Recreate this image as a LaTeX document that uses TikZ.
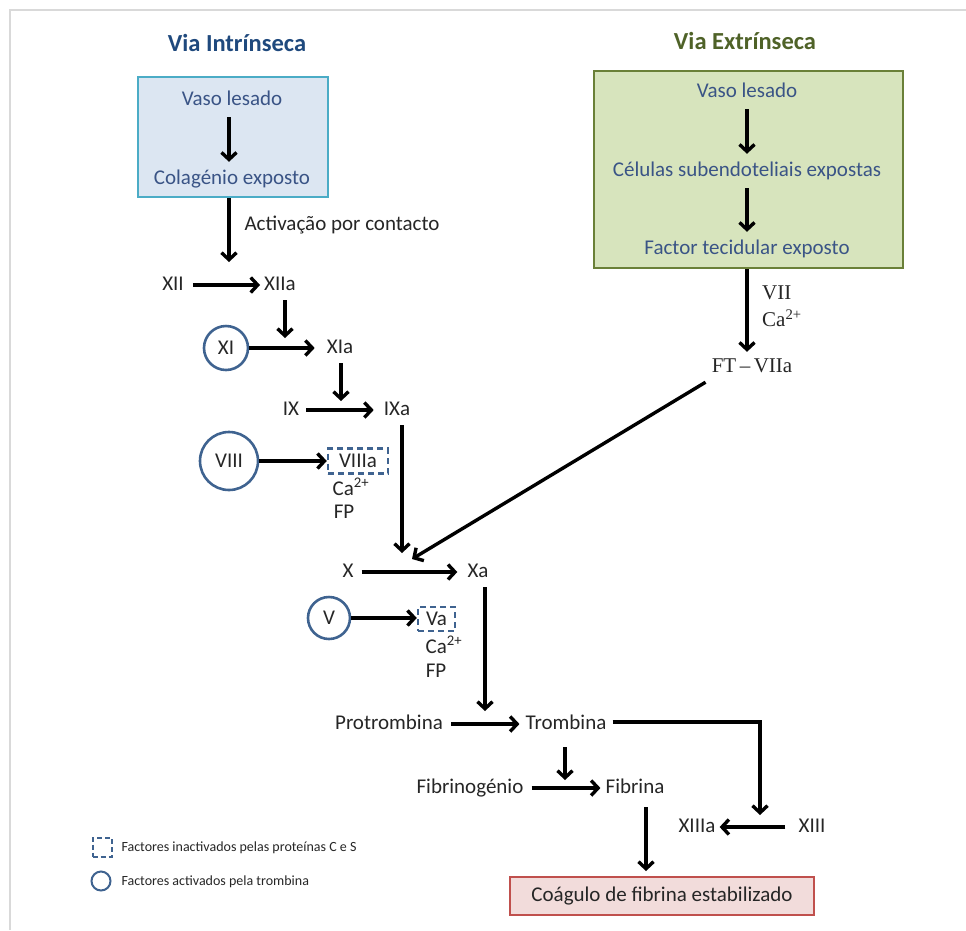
\documentclass[tikz,border=0pt]{standalone}
\usepackage{fontspec}
\setmainfont{Carlito}
\newfontfamily\serifff{Liberation Serif}
\usetikzlibrary{arrows.meta,calc}
\definecolor{titleblue}{HTML}{1F497D}
\definecolor{titlegreen}{HTML}{4F6228}
\definecolor{boxtext}{HTML}{3A5486}
\definecolor{bluefill}{HTML}{DCE6F2}
\definecolor{blueline}{HTML}{4BACC6}
\definecolor{greenfill}{HTML}{D7E4BD}
\definecolor{greenline}{HTML}{6A8038}
\definecolor{redfill}{HTML}{F2DCDB}
\definecolor{redline}{HTML}{C0504D}
\definecolor{circ}{HTML}{3F6390}
\definecolor{ftext}{HTML}{262626}
\definecolor{frame}{HTML}{D9D9D9}
\begin{document}
\begin{tikzpicture}[x=1pt,y=-1pt,
  font=\fontsize{21}{24}\selectfont,
  arr/.style={line width=3.4pt,-{Straight Barb[length=7pt,width=15pt]}},
  ttl/.style={font=\fontsize{24.5}{28}\selectfont\bfseries},
  boxt/.style={text=boxtext, inner ysep=8pt, text height=14pt, text depth=4pt},
  fl/.style={text=ftext, inner xsep=6pt, inner ysep=6pt, text height=14pt, text depth=4pt},
  circf/.style={circle, draw=circ, line width=2.6pt, text=ftext, inner sep=0pt},
  dashbox/.style={draw=circ, line width=2.4pt, dash pattern=on 6pt off 4pt, text=ftext, inner sep=0pt},
  sm/.style={text=ftext, inner sep=1pt}
]
\useasboundingbox (0,0) rectangle (966,930);
% frame lines
\draw[frame, line width=1.5pt] (10,930) -- (10,10) -- (966,10);

% titles
\node[ttl, text=titleblue] (t1) at (237,43) {Via Intrínseca};
\node[ttl, text=titlegreen] (t2) at (745,41) {Via Extrínseca};

% intrinsic box
\node[draw=blueline, fill=bluefill, line width=2.6pt, minimum width=190pt, minimum height=120pt] (bbox) at (233,137) {};
\node[boxt] (v1) at (232,100) {Vaso lesado};
\node[boxt] (c1) at (232,179) {Colagénio exposto};
\draw[arr] (v1.south -| 229,0) -- (c1.north -| 229,0);

% extrinsic box
\node[draw=greenline, fill=greenfill, line width=2.8pt, minimum width=309pt, minimum height=197pt] (gbox) at (748.5,169.5) {};
\node[boxt] (v2) at (747,92) {Vaso lesado};
\node[boxt] (ce) at (747,171) {Células subendoteliais expostas};
\node[boxt] (ft) at (747,249) {Factor tecidular exposto};
\draw[arr] (v2) -- (ce);
\draw[arr] (ce) -- (ft);

% contact activation
\coordinate (m0) at (229,262);
\draw[arr] (bbox.south -| m0) -- (m0);
\node[text=ftext, anchor=west] (act) at (241,225) {Activação por contacto};

% FT-VIIa
\node[fl, font=\fontsize{21}{24}\serifff] (FT) at (752,367) {FT\,–\,VIIa};
\draw[arr] (gbox.south -| 747,0) -- (FT.north -| 747,0);
\node[sm, font=\fontsize{21}{24}\serifff, anchor=west] (vii) at (761,293) {VII};
\node[sm, font=\fontsize{21}{24}\serifff, anchor=west] (ca0) at (761,318) {Ca\textsuperscript{2+}};

% XII -> XIIa
\node[fl, inner xsep=9pt] (XII) at (173,285) {XII};
\node[fl, inner xsep=4pt] (XIIa) at (280,285) {XIIa};
\draw[arr] (XII) -- (XIIa);
\coordinate (m1) at (285,338);
\draw[arr] (XIIa.south -| m1) -- (m1);

% XI -> XIa
\node[circf, minimum size=44pt] (XI) at (226,348) {XI};
\node[fl, inner xsep=12pt] (XIa) at (340,348) {XIa};
\draw[arr] (XI) -- (XIa);
\coordinate (m2) at (341,401);
\draw[arr] (XIa.south -| m2) -- (m2);

% IX -> IXa
\node[fl, inner xsep=7pt] (IX) at (291,410) {IX};
\node[fl, inner xsep=10pt] (IXa) at (397,410) {IXa};
\draw[arr] (IX) -- (IXa);

% VIII -> VIIIa
\node[circf, minimum size=58pt] (VIII) at (229,461) {VIII};
\node[dashbox, minimum width=60pt, minimum height=25pt] (VIIIa) at (358,461) {VIIIa};
\draw[arr] (VIII) -- (VIIIa);
\node[sm] (ca1) at (351,487) {Ca\textsuperscript{2+}};
\node[sm] (fp1) at (344,512) {FP};

% IXa down to X->Xa
\coordinate (m3) at (402,553);
\draw[arr] (IXa.south -| m3) -- (m3);
\coordinate (m4) at (412,559);
\draw[arr] (FT.south west) -- (m4);

% X -> Xa
\node[fl, inner xsep=8pt] (X) at (348,572) {X};
\node[fl, inner xsep=10pt] (Xa) at (478,572) {Xa};
\draw[arr] (X) -- (Xa);

% V -> Va
\node[circf, minimum size=42pt] (V) at (329,618) {V};
\node[dashbox, minimum width=37pt, minimum height=24pt] (Va) at (436.5,619) {Va};
\draw[arr] (V.east) -- (Va.west |- V.east);
\node[sm] (ca2) at (444,645) {Ca\textsuperscript{2+}};
\node[sm] (fp2) at (436,671) {FP};

% Xa down
\coordinate (m5) at (485,711);
\draw[arr] (Xa.south -| m5) -- (m5);

% Protrombina -> Trombina
\node[fl, inner xsep=8pt] (Pro) at (389,724) {Protrombina};
\node[fl, inner xsep=6pt] (Tro) at (566,724) {Trombina};
\draw[arr] (Pro) -- (Tro);

% Trombina -> XIII corner
\coordinate (m6) at (760,815);
\draw[arr] (Tro.east |- 0,722) -| (m6);

% Trombina down
\coordinate (m7) at (565,780);
\draw[arr, shorten <=8pt] (Tro.south -| m7) -- (m7);

% Fibrinogenio -> Fibrina
\node[fl, inner xsep=8pt] (Fbg) at (470,788) {Fibrinogénio};
\node[fl, inner xsep=5pt] (Fib) at (635,788) {Fibrina};
\draw[arr] (Fbg) -- (Fib);

% XIII -> XIIIa
\node[fl, inner xsep=13pt] (XIII) at (812,827) {XIII};
\node[fl, inner xsep=4pt] (XIIIa) at (697,827) {XIIIa};
\draw[arr] (XIII) -- (XIIIa);

% Coagulo
\node[draw=redline, fill=redfill, line width=2.6pt, minimum width=304pt, minimum height=38pt, text=ftext] (coag) at (662,896) {Coágulo de fibrina estabilizado};
\coordinate (m8) at (646,871);
\draw[arr, shorten <=4pt] (Fib.south -| m8) -- (m8);

% legend
\node[dashbox, line width=2pt, dash pattern=on 5pt off 3pt, minimum size=19pt] (lg1) at (102,847) {};
\node[anchor=west, text=ftext, font=\fontsize{14}{16}\selectfont] (lt1) at (118,848) {Factores inactivados pelas proteínas C e S};
\node[circle, draw=circ, line width=2pt, minimum size=19pt, inner sep=0pt] (lg2) at (101,881) {};
\node[anchor=west, text=ftext, font=\fontsize{14}{16}\selectfont] (lt2) at (118,882) {Factores activados pela trombina};
\end{tikzpicture}
\end{document}
